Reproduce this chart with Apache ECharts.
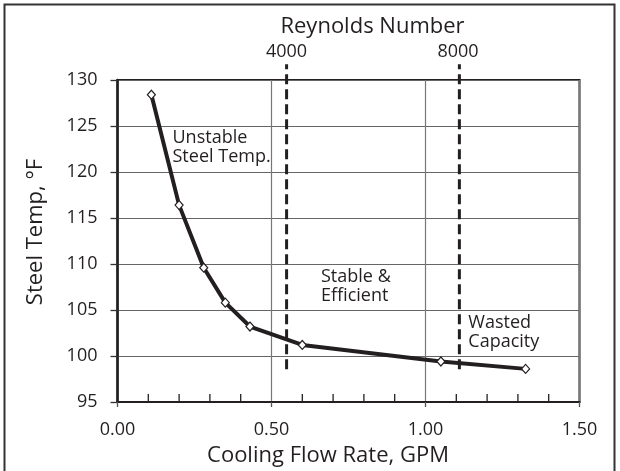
<!DOCTYPE html>
<html>
<head>
<meta charset="utf-8">
<script src="https://cdn.jsdelivr.net/npm/echarts@6/dist/echarts.min.js"></script>
<style>
  html, body { margin: 0; padding: 0; background: #fff; }
  #chart { width: 620px; height: 471px; }
</style>
</head>
<body>
<div id="chart"></div>
<script>
// cooling flow vs steel temp
var flowGpm = [0.11, 0.20, 0.28, 0.35, 0.43, 0.60, 1.05, 1.325];
var steelTemp = [128.4, 116.4, 109.6, 105.8, 103.2, 101.2, 99.4, 98.6];

// Reynolds number boundaries (dashed lines)
var reynoldsFlow = [0.549, 1.11];
var reynoldsLabels = ['4000', '8000'];
var dashSpan = [98.56, 131.7];

// x axis tick marks: short inside ticks every 0.1, outward ones at labels
var xMinorTicks = [0.1, 0.2, 0.3, 0.4, 0.6, 0.7, 0.8, 0.9, 1.1, 1.2, 1.3, 1.4];
var xMajorTicks = [0, 0.5, 1.0, 1.5];

var regionLabels = ['Unstable\nSteel Temp.', 'Stable &\nEfficient', 'Wasted\nCapacity'];

var font = '"Open Sans", "Noto Sans", sans-serif';
var ink = '#231f20';
var yMin = 95;
var chart = echarts.init(document.getElementById('chart'));

function dashSeries(x) {
  return {
    type: 'line',
    data: [[x, dashSpan[0]], [x, dashSpan[1]]],
    symbol: 'none',
    clip: false,
    silent: true,
    z: 1,
    lineStyle: { color: ink, width: 3, type: [10, 5] }
  };
}

function tickSeries(values, len, color) {
  return {
    type: 'custom',
    silent: true,
    clip: false,
    z: 4,
    data: values.map(function (v) { return [v, yMin]; }),
    renderItem: function (params, api) {
      var p = api.coord([api.value(0), api.value(1)]);
      return {
        type: 'line',
        shape: { x1: p[0], y1: p[1], x2: p[0], y2: p[1] + len },
        style: { stroke: color, lineWidth: 1.3 }
      };
    }
  };
}

var option = {
  animation: false,
  grid: {
    left: 117.5,
    right: 40.5,
    top: 80,
    bottom: 69,
    show: true,
    borderColor: ink,
    borderWidth: 2
  },
  xAxis: {
    type: 'value',
    min: 0,
    max: 1.5,
    interval: 0.5,
    axisLine: { show: true, onZero: false, lineStyle: { color: ink, width: 2 } },
    axisTick: { show: false },
    axisLabel: {
      margin: 19,
      color: ink,
      fontFamily: font,
      fontSize: 18,
      formatter: function (v) { return v.toFixed(2); }
    },
    splitLine: { show: true, lineStyle: { color: '#777', width: 1.2 } }
  },
  yAxis: {
    type: 'value',
    min: yMin,
    max: 130,
    interval: 5,
    axisLine: { show: true, onZero: false, lineStyle: { color: ink, width: 2.5 } },
    axisTick: { show: true, length: 7, lineStyle: { color: '#333', width: 1.3 } },
    axisLabel: {
      margin: 20,
      color: ink,
      fontFamily: font,
      fontSize: 18
    },
    splitLine: { show: true, lineStyle: { color: '#666', width: 1.2 } }
  },
  series: [
    dashSeries(reynoldsFlow[0]),
    dashSeries(reynoldsFlow[1]),
    tickSeries(xMinorTicks, -8, ink),
    tickSeries(xMajorTicks, 5, '#555'),
    {
      type: 'line',
      data: flowGpm.map(function (x, i) { return [x, steelTemp[i]]; }),
      z: 3,
      symbol: 'diamond',
      symbolSize: [8, 9],
      showSymbol: true,
      lineStyle: { color: ink, width: 4 },
      itemStyle: { color: '#fff', borderColor: ink, borderWidth: 1.2 }
    }
  ],
  graphic: [
    {
      type: 'rect',
      shape: { x: 4.5, y: 4.5, width: 610, height: 490 },
      style: { fill: 'none', stroke: '#333', lineWidth: 2 },
      silent: true
    },
    {
      type: 'text', x: 372.5, y: 27,
      style: { text: 'Reynolds Number', font: '22px ' + font, fill: ink, textAlign: 'center', textVerticalAlign: 'middle' }
    },
    {
      type: 'text', x: 286.5, y: 52.2,
      style: { text: reynoldsLabels[0], font: '18px ' + font, fill: ink, textAlign: 'center', textVerticalAlign: 'middle' }
    },
    {
      type: 'text', x: 458, y: 52.2,
      style: { text: reynoldsLabels[1], font: '18px ' + font, fill: ink, textAlign: 'center', textVerticalAlign: 'middle' }
    },
    {
      type: 'text', x: 328, y: 455.4,
      style: { text: 'Cooling Flow Rate, GPM', font: '22px ' + font, fill: ink, textAlign: 'center', textVerticalAlign: 'middle' }
    },
    {
      type: 'text', x: 36, y: 232, rotation: Math.PI / 2,
      style: { text: 'Steel Temp, °F', font: '22px ' + font, fill: ink, textAlign: 'center', textVerticalAlign: 'middle' }
    },
    {
      type: 'text', x: 172.5, y: 128.4,
      style: { text: regionLabels[0], font: '18px ' + font, lineHeight: 19, fill: ink, textAlign: 'left', textVerticalAlign: 'top' }
    },
    {
      type: 'text', x: 321, y: 267.7,
      style: { text: regionLabels[1], font: '18px ' + font, lineHeight: 19, fill: ink, textAlign: 'left', textVerticalAlign: 'top' }
    },
    {
      type: 'text', x: 468.3, y: 313.7,
      style: { text: regionLabels[2], font: '18px ' + font, lineHeight: 19, fill: ink, textAlign: 'left', textVerticalAlign: 'top' }
    }
  ]
};

chart.setOption(option);
</script>
</body>
</html>
